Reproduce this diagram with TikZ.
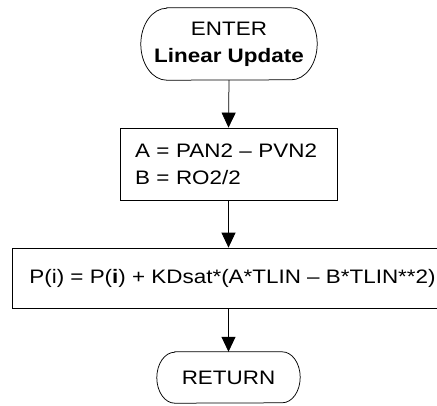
\documentclass[tikz,border=0pt]{standalone}
\usepackage{fontspec}
\setmainfont[FakeStretch=1.15]{Liberation Sans}
\usetikzlibrary{arrows.meta}

\tikzset{
  txt/.style = {font = \fontsize{19.5}{27}\selectfont},
  box/.style = {txt, draw, line width = .75pt, inner sep = 0pt},
  term/.style = {txt, align = center, inner sep = 0pt},
  flow/.style = {line width = .75pt, -{Triangle[width = 14pt, length = 15pt]}},
}
% terminator outline: node, x radius, y radius
\newcommand\termline[3]{%
  \draw [line width = .75pt] ([xshift = #2]#1.north west) -- ([xshift = -#2]#1.north east)
    arc [start angle = 90, end angle = -90, x radius = #2, y radius = #3]
    -- ([xshift = #2]#1.south west)
    arc [start angle = 270, end angle = 90, x radius = #2, y radius = #3] -- cycle;}

\begin{document}
\begin{tikzpicture}[x = 1pt, y = 1pt]
  \clip (0,0) rectangle (437,-405);
  \node (enter) [term, minimum width = 176pt, minimum height = 72pt]
    at (229,-44) {ENTER\\\textbf{Linear Update}};
  \termline{enter}{26pt}{36pt}
  \node (coef) [box, minimum width = 217pt, minimum height = 72pt,
                text width = 187pt, inner xsep = 15pt, align = left]
    at (228.5,-164) {A = PAN2 – PVN2\\B = RO2/2};
  \node (upd) [box, minimum width = 441pt, minimum height = 60pt]
    at (232.5,-278) {P(i) = P(\textbf{i}) + KDsat*(A*TLIN – B*TLIN**2)};
  \node (ret) [term, minimum width = 143pt, minimum height = 51pt]
    at (228.5,-377.5) {RETURN};
  \termline{ret}{18pt}{25.5pt}
  \draw [flow] (enter.south) -- (coef.north);
  \draw [flow] (coef.south) -- (coef.south |- upd.north);
  \draw [flow] (coef.south |- upd.south) -- (ret.north);
\end{tikzpicture}
\end{document}
